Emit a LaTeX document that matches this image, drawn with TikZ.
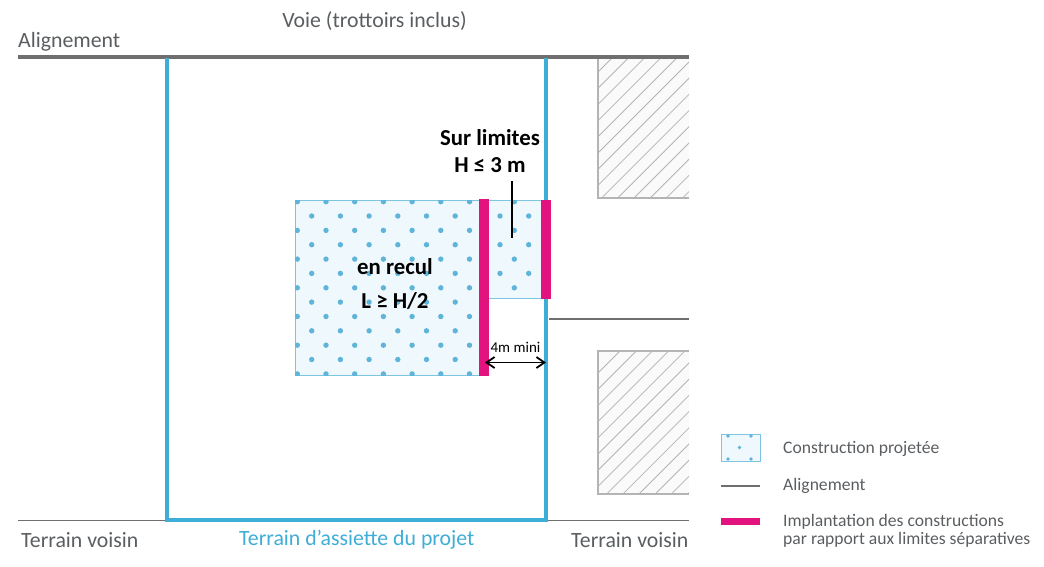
\documentclass[tikz,border=0pt]{standalone}
\usepackage{fontspec}
\setmainfont{Carlito}
\usetikzlibrary{arrows.meta}
\definecolor{cblue}{HTML}{3FADD6}
\definecolor{cdot}{HTML}{5FB4DA}
\definecolor{cfill}{HTML}{EFF8FC}
\definecolor{cedge}{HTML}{7CC6E2}
\definecolor{cpink}{HTML}{E2127F}
\definecolor{cgray}{HTML}{6F6F6F}
\definecolor{chatch}{HTML}{B4B4B4}
\definecolor{ctext}{HTML}{5A5E61}
\tikzset{
  lab/.style={font=\fontsize{21.8}{25}\selectfont,text=ctext,inner sep=0pt},
  leg/.style={font=\fontsize{17.6}{18.5}\selectfont,text=ctext,inner sep=0pt,align=left,anchor=west},
  bold/.style={font=\fontsize{22.8}{27}\selectfont\bfseries,text=black,inner sep=0pt,align=center},
  build/.style={fill=cfill,draw=cedge,line width=1pt},
  pinkbar/.style={fill=cpink,draw=none},
  frameline/.style={draw=cblue,line width=3.5pt},
  align line/.style={draw=cgray,line width=3.5pt},
  thin line/.style={draw=cgray,line width=1.1pt},
  hatchline/.style={draw=chatch,line width=.8pt},
  hatchedge/.style={draw=chatch,line width=2.5pt},
  dot/.style={fill=cdot,draw=none}
}
\begin{document}
\begin{tikzpicture}[x=1pt,y=-1pt]
\useasboundingbox (0,0) rectangle (1044,566);
% alignment and thin lines
\coordinate (tl) at (18,57); \coordinate (tr) at (689,57);
\coordinate (bl) at (18,520.5); \coordinate (br) at (689,520.5);
\coordinate (ml) at (549,319); \coordinate (mr) at (689,319);
\draw[thin line] (bl) -- (br);
\draw[thin line] (ml) -- (mr);
% hatched neighbours
\fill[black!2] (598,57) rectangle (689,198);
\fill[black!2] (598,351) rectangle (689,494);
\begin{scope}
\clip (598,57) rectangle (689,198);
\foreach \i in {0,...,15} \draw[hatchline] (598,{72+\i*16.2}) -- ++(200,-200);
\end{scope}
\begin{scope}
\clip (598,351) rectangle (689,494);
\foreach \i in {0,...,15} \draw[hatchline] (598,{373+\i*16.2}) -- ++(200,-200);
\end{scope}
\draw[hatchedge] (689,57) -- (598,57) -- (598,198) -- (689,198);
\draw[hatchedge] (689,351) -- (598,351) -- (598,494) -- (689,494);
\draw[align line] (tl) -- (tr);
% frame
\draw[frameline] (167,58) -- (167,520) -- (546,520) -- (546,58);
% buildings
\draw[build] (295,200) rectangle (484,375);
\draw[build] (484,200) rectangle (546,298.5);
\begin{scope}
\clip (295,200) rectangle (484,375);
\foreach \r in {0,...,5} \foreach \c in {0,...,5} \fill[dot] ({311.7+\c*28.7},{216+\r*28.7}) circle (2.7);
\foreach \r in {0,...,6} \foreach \c in {0,...,6} \fill[dot] ({297.3+\c*28.7},{201.7+\r*28.7}) circle (2.7);
\end{scope}
\begin{scope}
\clip (489,200) rectangle (546,298.5);
\foreach \r in {0,...,2} \foreach \c in {0,1} \fill[dot] ({500+\c*28.7},{216+\r*28.7}) circle (2.7);
\foreach \r in {0,...,3} \fill[dot] (514.3,{201.7+\r*28.7}) circle (2.7);
\end{scope}
% pink bars
\fill[pinkbar] (479,199) rectangle (489,375.5);
\fill[pinkbar] (541,200) rectangle (551,299);
% leader and dimension
\coordinate (lead1) at (512,181); \coordinate (lead2) at (512,238);
\draw[black,line width=1.8pt] (lead1) -- (lead2);
\coordinate (d1) at (485,362.5); \coordinate (d2) at (546,362.5);
\draw[black,line width=1.8pt,{Straight Barb[length=8pt,width=11pt]}-{Straight Barb[length=8pt,width=11pt]}] (d1) -- (d2);
% labels
\node[lab] (voie) at (374.5,21) {Voie (trottoirs inclus)};
\node[lab,anchor=west] (alig) at (18,42) {Alignement};
\node[lab,anchor=west] (tv1) at (21,540) {Terrain voisin};
\node[lab,anchor=west,text=cblue] (tap) at (239,540) {Terrain d’assiette du projet};
\node[lab,anchor=west] (tv2) at (571,540) {Terrain voisin};
\node[bold] (sur) at (490,151) {Sur limites\\H ≤ 3 m};
\node[bold] (rec) at (395,284.5) {en recul\\[7pt]L ≥ H/2};
\node[font=\fontsize{15}{17}\selectfont,text=black,inner sep=0pt] (mini) at (515.5,347) {4m mini};
% legend
\node[build,minimum width=39pt,minimum height=27pt,inner sep=0pt] (lb) at (740.5,447.5) {};
\foreach \p in {(728,436),(751,436),(728,459),(751,459),(739.5,447.5)} \fill[dot] \p circle (1.9);
\coordinate (l1) at (721,485.5); \coordinate (l2) at (760,485.5);
\draw[draw=cgray,line width=2pt] (l1) -- (l2);
\node[fill=cpink,minimum width=39pt,minimum height=7pt,inner sep=0pt] (lp) at (740.5,521) {};
\node[leg] (t1) at (783,449) {Construction projetée};
\node[leg] (t2) at (783,486) {Alignement};
\node[leg] (t3) at (783,531) {Implantation des constructions\\par rapport aux limites séparatives};
\end{tikzpicture}
\end{document}
